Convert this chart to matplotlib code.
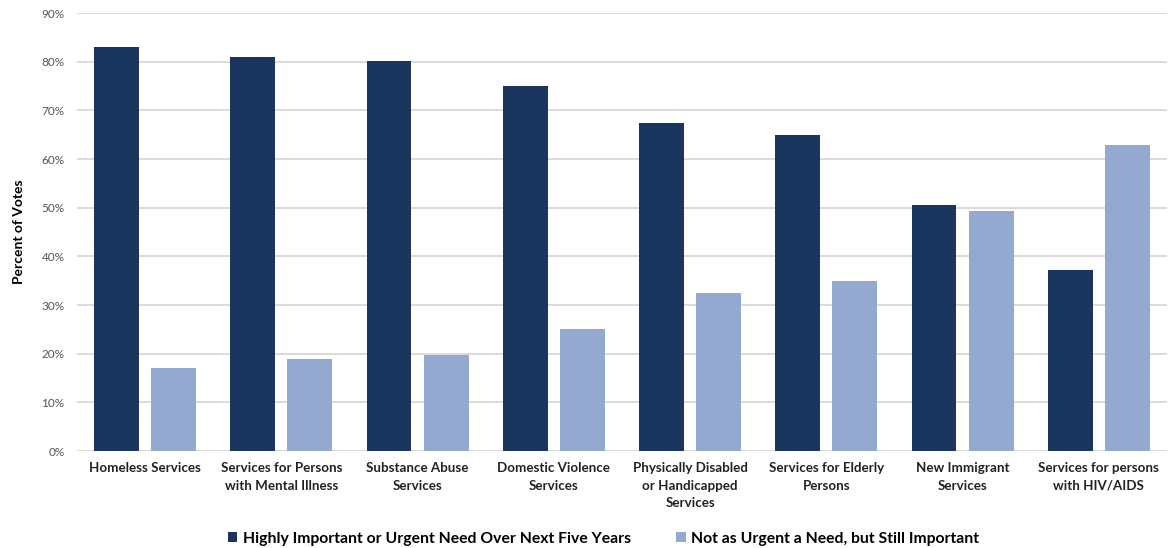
import matplotlib
matplotlib.use("Agg")
import matplotlib.pyplot as plt
import numpy as np
from matplotlib.patches import Patch
from matplotlib.ticker import PercentFormatter

categories = [
    "Homeless Services",
    "Services for Persons\nwith Mental Illness",
    "Substance Abuse\nServices",
    "Domestic Violence\nServices",
    "Physically Disabled\nor Handicapped\nServices",
    "Services for Elderly\nPersons",
    "New Immigrant\nServices",
    "Services for persons\nwith HIV/AIDS",
]
urgent = [83.0, 81.0, 80.2, 75.0, 67.5, 65.0, 50.6, 37.2]
important = [17.0, 19.0, 19.8, 25.0, 32.5, 35.0, 49.4, 62.8]
series_names = [
    "Highly Important or Urgent Need Over Next Five Years",
    "Not as Urgent a Need, but Still Important",
]

DARK = "#1b365e"
LIGHT = "#94a9cf"

plt.rcParams["font.family"] = ["Lato", "DejaVu Sans"]

fig = plt.figure(figsize=(11.72, 5.48), dpi=100)
ax = fig.add_axes([0.0657, 0.177, 0.93, 0.799])

x = np.arange(len(categories))
w = 0.33
ax.bar(x - 0.21, urgent, w, color=DARK, zorder=3)
ax.bar(x + 0.21, important, w, color=LIGHT, zorder=3)

ax.set_xlim(-0.5, len(categories) - 0.5)
ax.set_ylim(0, 90)
ax.set_yticks(np.arange(0, 91, 10))
ax.yaxis.set_major_formatter(PercentFormatter(decimals=0))
ax.grid(axis="y", color="#d4d4d4", lw=1.2, zorder=0)
for s in ax.spines.values():
    s.set_visible(False)
ax.tick_params(axis="y", length=0, labelsize=8.5, labelcolor="#555555", pad=9)
ax.tick_params(axis="x", length=0, pad=8)
ax.set_xticks(x)
ax.set_xticklabels(categories, fontsize=9.6, fontweight="bold", color="#222222",
                   linespacing=1.55)
ax.set_ylabel("Percent of Votes", fontsize=10, fontweight="bold", labelpad=12)

handles = [Patch(facecolor=DARK, label=series_names[0]),
           Patch(facecolor=LIGHT, label=series_names[1])]
fig.legend(handles=handles, loc="lower center", ncol=2, frameon=False,
           bbox_to_anchor=(0.515, -0.022), handlelength=0.6, handleheight=0.6,
           handletextpad=0.35, columnspacing=2.9,
           prop={"size": 11.3, "weight": "bold"})

fig.savefig("out.png", dpi=100)
